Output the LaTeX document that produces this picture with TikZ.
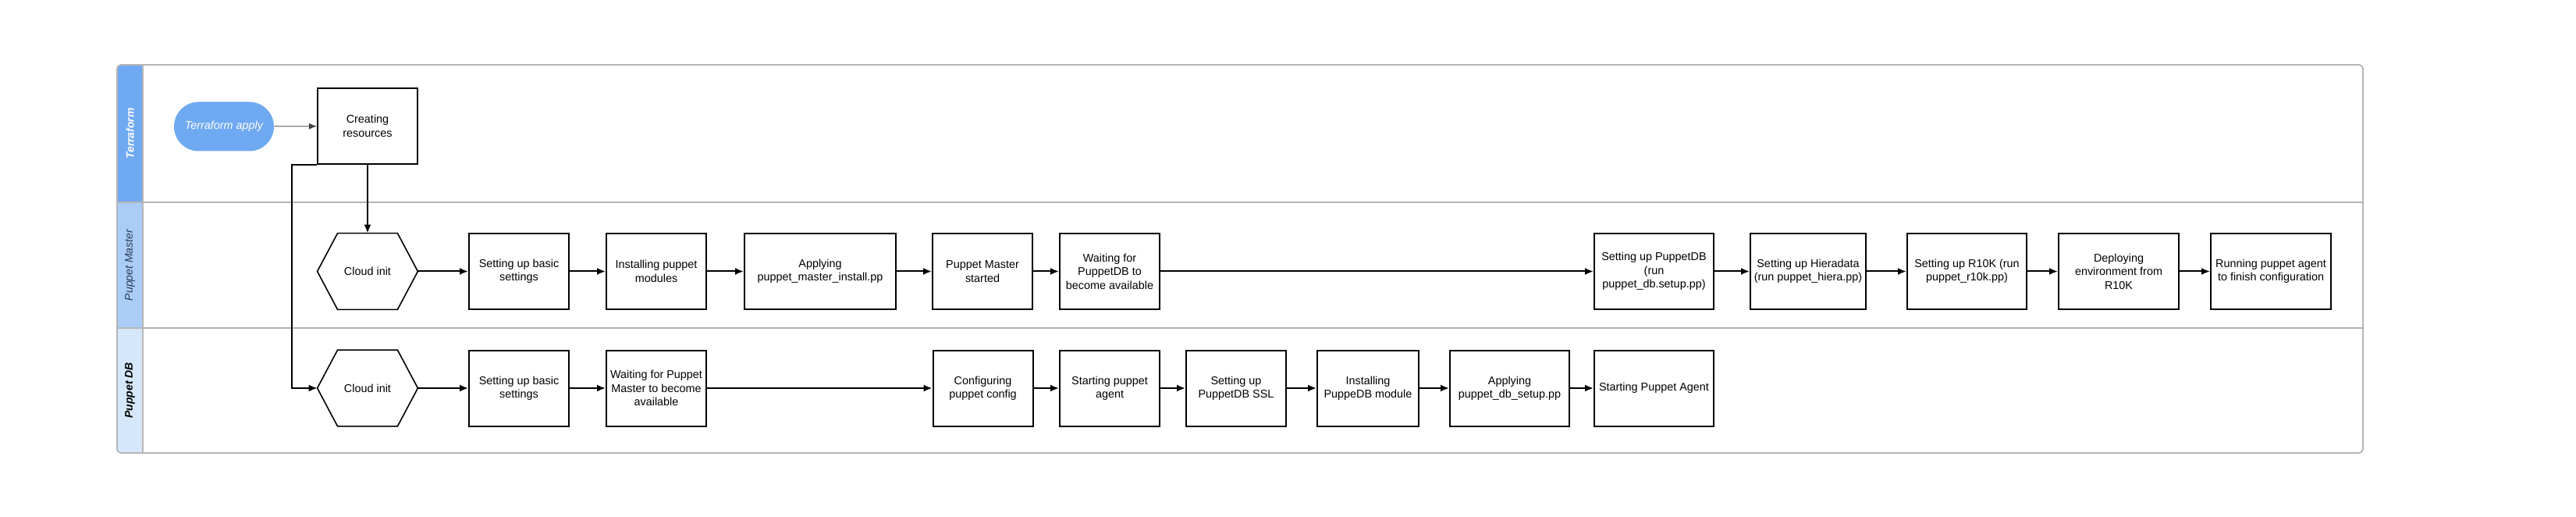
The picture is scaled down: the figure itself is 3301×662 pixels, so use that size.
\documentclass[tikz,border=0pt]{standalone}
\usepackage{fontspec}
\setmainfont{Liberation Sans}
\usetikzlibrary{arrows.meta}
\tikzset{>={Latex[length=5.5pt,width=4.5pt]}}
\definecolor{terraBlue}{HTML}{6FA9F2}
\definecolor{masterBlue}{HTML}{A9CDF7}
\definecolor{dbBlue}{HTML}{D5E7FB}
\definecolor{frameGray}{HTML}{B5B5B5}
\definecolor{masterText}{HTML}{2B3B55}
\tikzset{
  stepbox/.style={draw, line width=1pt, minimum width=64pt, minimum height=48.5pt,
    inner sep=1pt, align=center, font=\fontsize{7.2}{8.7}\selectfont},
  hexnode/.style={minimum width=64pt, minimum height=48.5pt, inner sep=0pt,
    align=center, font=\fontsize{7.2}{8.7}\selectfont},
  pillnode/.style={fill=terraBlue, text=white, rounded corners=15.75pt,
    minimum width=64pt, minimum height=31.5pt, font=\fontsize{7.2}{8.7}\selectfont\itshape},
  lanetitle/.style={rotate=90, font=\fontsize{7}{8}\selectfont\bfseries\itshape},
  flow/.style={->, line width=1pt},
}
\begin{document}
\begin{tikzpicture}[x=0.5pt,y=-0.5pt]
    \useasboundingbox (0,0) rectangle (3301,662);
    \begin{scope}
      \clip[rounded corners=2.5pt] (150,83) rectangle (3028,580);
      \fill[terraBlue] (150,83) rectangle (183,259);
      \fill[masterBlue] (150,259) rectangle (183,420);
      \fill[dbBlue] (150,420) rectangle (183,580);
    \end{scope}
    \draw[frameGray, line width=0.6pt] (183,83) -- (183,580);
    \draw[frameGray, line width=0.6pt] (150,259) -- (3028,259);
    \draw[frameGray, line width=0.6pt] (150,420) -- (3028,420);
    \draw[frameGray, line width=0.9pt, rounded corners=2.5pt] (150,83) rectangle (3028,580);
    \node[lanetitle, text=white] (laneTerra) at (166.5,171) {Terraform};
    \node[lanetitle, text=masterText, font=\fontsize{7}{8}\selectfont\itshape] (laneMaster) at (166.5,339.5) {Puppet Master};
    \node[lanetitle, text=black] (laneDB) at (166.5,500) {Puppet DB};

    \node[pillnode] (tfapply) at (287,162) {Terraform apply};
    \node[stepbox] (create) at (471,161.5) {Creating\\resources};

    \node[hexnode] (pmcloud) at (471,347.5) {Cloud init};
    \node[stepbox] (pmbasic) at (665,347.5) {Setting up basic\\settings};
    \node[stepbox] (pmmodules) at (841,347.5) {Installing puppet\\modules};
    \node[stepbox, minimum width=97pt] (pmapply) at (1051,347.5) {Applying\\puppet\_master\_install.pp};
    \node[stepbox] (pmstarted) at (1259,347.5) {Puppet Master\\started};
    \node[stepbox] (pmwaitdb) at (1422,347.5) {Waiting for\\PuppetDB to\\become available};
    \node[stepbox, minimum width=76.5pt] (pmdbsetup) at (2119.5,347.5) {Setting up PuppetDB\\(run\\puppet\_db.setup.pp)};
    \node[stepbox, minimum width=74pt] (pmhiera) at (2317,347.5) {Setting up Hieradata\\(run puppet\_hiera.pp)};
    \node[stepbox, minimum width=76.5pt] (pmrtenk) at (2520.5,347.5) {Setting up R10K (run\\puppet\_r10k.pp)};
    \node[stepbox, minimum width=77pt] (pmdeploy) at (2715,347.5) {Deploying\\environment from\\R10K};
    \node[stepbox, minimum width=77pt] (pmagent) at (2910,347.5) {Running puppet agent\\to finish configuration};

    \node[hexnode] (dbcloud) at (471,497) {Cloud init};
    \node[stepbox] (dbbasic) at (665,497) {Setting up basic\\settings};
    \node[stepbox] (dbwaitpm) at (841,497) {Waiting for Puppet\\Master to become\\available};
    \node[stepbox] (dbconfig) at (1259.5,497) {Configuring\\puppet config};
    \node[stepbox] (dbagent) at (1422,497) {Starting puppet\\agent};
    \node[stepbox] (dbssl) at (1584,497) {Setting up\\PuppetDB SSL};
    \node[stepbox, minimum width=65pt] (dbmodule) at (1753,497) {Installing\\PuppeDB module};
    \node[stepbox, minimum width=76.5pt] (dbapply) at (1934.5,497) {Applying\\puppet\_db\_setup.pp};
    \node[stepbox, minimum width=76.5pt] (dbstart) at (2119.5,497) {Starting Puppet Agent};

    \foreach \n in {pmcloud,dbcloud}
      \draw[line width=0.8pt] (\n.west) -- ([xshift=13pt]\n.north west) -- ([xshift=-13pt]\n.north east)
        -- (\n.east) -- ([xshift=-13pt]\n.south east) -- ([xshift=13pt]\n.south west) -- cycle;

    \draw[->, gray, line width=0.6pt, >={Latex[length=5pt,width=4pt,fill=black!75,color=black!75]}] (tfapply) -- (create);
    \draw[flow] (create) -- (pmcloud);
    \draw[flow] (create.south west) -- ++(-16pt,0) |- (dbcloud.west);

    \foreach \a/\b in {pmcloud/pmbasic,pmbasic/pmmodules,pmmodules/pmapply,pmapply/pmstarted,
        pmstarted/pmwaitdb,pmwaitdb/pmdbsetup,pmdbsetup/pmhiera,pmhiera/pmrtenk,pmrtenk/pmdeploy,pmdeploy/pmagent}
      \draw[flow] (\a.east) -- (\b.west);
    \foreach \a/\b in {dbcloud/dbbasic,dbbasic/dbwaitpm,dbwaitpm/dbconfig,dbconfig/dbagent,
        dbagent/dbssl,dbssl/dbmodule,dbmodule/dbapply,dbapply/dbstart}
      \draw[flow] (\a.east) -- (\b.west);
\end{tikzpicture}
\end{document}
